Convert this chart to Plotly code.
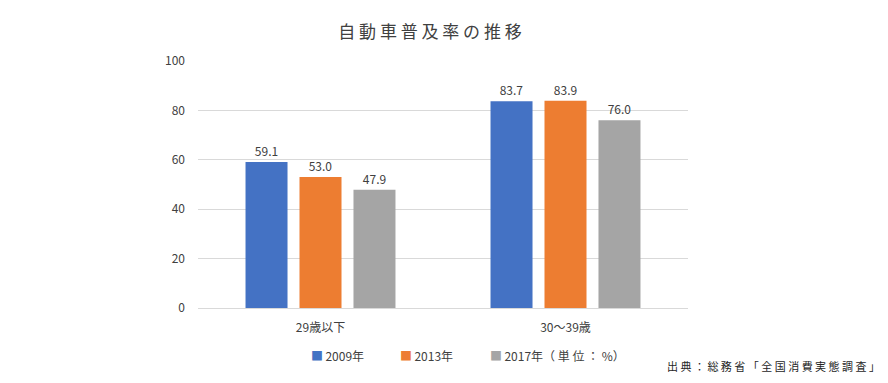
import plotly.graph_objects as go

categories = ["29歳以下", "30〜39歳"]
series_names = ["2009年", "2013年", "2017年（ 単 位 ： %）"]
v2009 = [59.1, 83.7]
v2013 = [53.0, 83.9]
v2017 = [47.9, 76.0]
colors = ["#4472C4", "#ED7D31", "#A5A5A5"]
yticks = [0, 20, 40, 60, 80, 100]

FONT = "Noto Sans CJK JP"
W, H = 888, 383
L, R, T, B = 198, 688, 61, 308
fig = go.Figure()
for name, vals, c in zip(series_names, [v2009, v2013, v2017], colors):
    fig.add_trace(go.Bar(
        x=categories, y=vals, name=name, marker=dict(color=c, line=dict(width=0)),
        text=[f"{v:.1f}" for v in vals], textposition="outside", constraintext="none",
        textfont=dict(size=12, color="#404040", family=FONT), cliponaxis=False,
        showlegend=False, hoverinfo="skip",
    ))

fig.update_layout(
    width=W, height=H,
    margin=dict(l=L, r=W - R, t=T, b=H - B, autoexpand=False),
    paper_bgcolor="white", plot_bgcolor="white",
    font=dict(family=FONT, size=12, color="#404040"),
    barmode="group", bargap=0.339, bargroupgap=0.222,
    title=dict(text="自 動 車 普 及 率 の 推 移", x=430 / W, xanchor="center", y=1 - 32 / H, yanchor="middle",
               font=dict(size=17, color="#404040", family=FONT)),
    showlegend=False,
)
fig.update_yaxes(range=[0, 100], tickvals=yticks, showgrid=True, gridcolor="#D9D9D9", gridwidth=1,
                 zeroline=False, showline=False, ticks="", ticklabelstandoff=12,
                 tickfont=dict(size=12, color="#404040"))
fig.update_xaxes(showline=True, linecolor="#D9D9D9", linewidth=1, ticks="", ticklabelstandoff=9,
                 tickfont=dict(size=12, color="#404040"))

# legend drawn as text
legend_x = [309, 398, 488]
for name, c, lx in zip(series_names, colors, legend_x):
    fig.add_annotation(text=f"<span style='color:{c}'>■</span>\u2009{name}", xref="paper", yref="paper",
                       x=(lx - L) / (R - L), xanchor="left", y=-(355 - B) / (B - T), yanchor="middle",
                       showarrow=False, font=dict(size=12, color="#404040", family=FONT))

fig.add_annotation(text="出 典 ： 総 務 省 「 全 国 消 費 実 態 調 査 」", xref="paper", yref="paper",
                   x=(882 - L) / (R - L), xanchor="right", y=-(366 - B) / (B - T), yanchor="middle",
                   showarrow=False, font=dict(size=11, color="#262626", family=FONT))
fig.write_html("out.html", config={"displayModeBar": False},
               post_script="document.body.style.margin='0';document.body.style.overflow='hidden';")
